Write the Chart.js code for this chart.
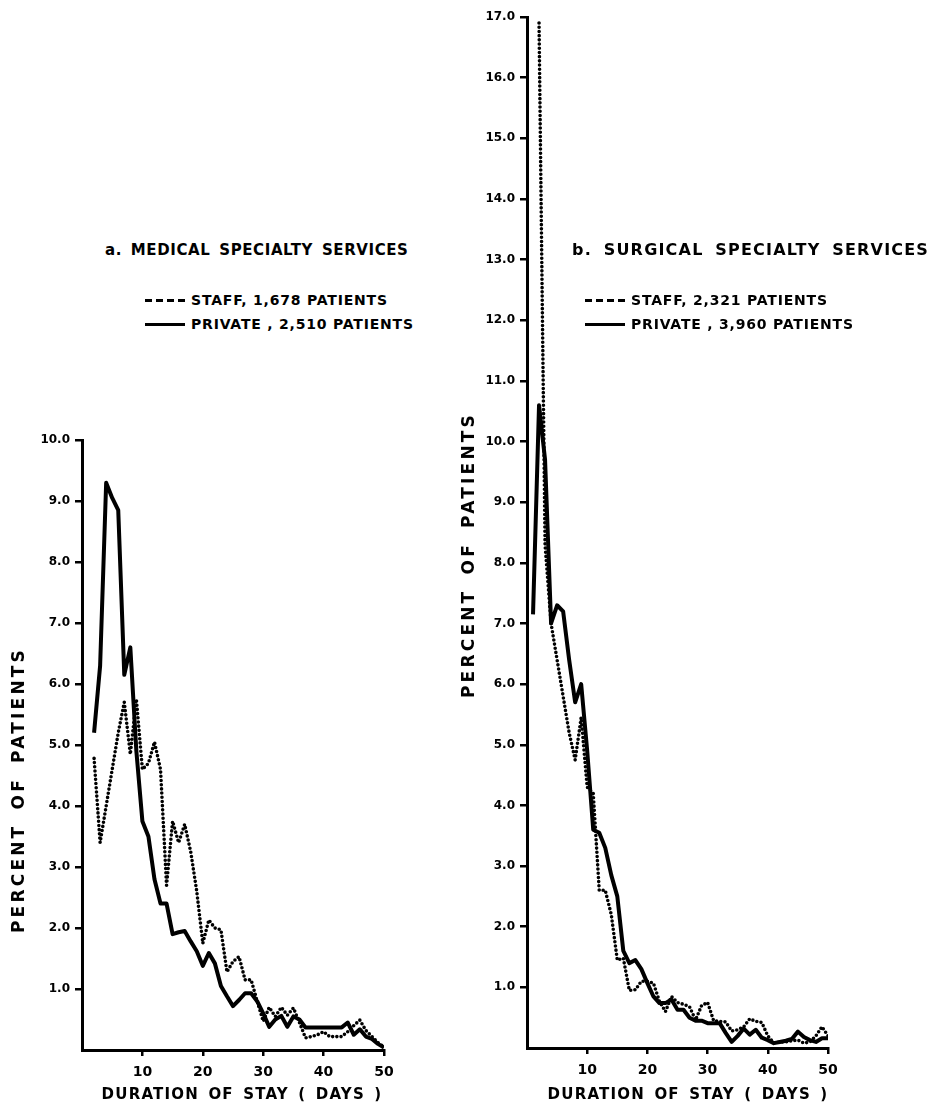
<!DOCTYPE html>
<html>
<head>
<meta charset="utf-8">
<script src="https://cdn.jsdelivr.net/npm/chart.js@4.4.1/dist/chart.umd.min.js"></script>
<style>
    html, body { margin: 0; padding: 0; background: #fff; }
    #page { position: relative; width: 937px; height: 1107px; overflow: hidden; font-family: "DejaVu Sans", sans-serif; font-weight: bold; color: #000; }
    canvas { position: absolute; }
    #med-canvas { left: 0; top: 400px; }
    #surg-canvas { left: 440px; top: 0; }
    .txt { position: absolute; white-space: nowrap; z-index: 2; }
    .title { font-size: 15px; line-height: 18px; letter-spacing: 0.6px; word-spacing: 3px; }
    .title.wide { font-size: 16px; letter-spacing: 1.2px; word-spacing: 5px; }
    .legend-row { font-size: 14px; line-height: 16px; letter-spacing: 0.8px; display: flex; align-items: center; }
    .swatch { display: inline-block; width: 40px; height: 3px; margin-right: 6px; background: #000; }
    .swatch.dashed { background: repeating-linear-gradient(to right, #000 0 7px, transparent 7px 11px); }
    .axis-title { font-size: 15px; line-height: 18px; letter-spacing: 1.2px; word-spacing: 3px; text-align: center; }
    .axis-title.vertical { width: 340px; font-size: 17px; letter-spacing: 3.2px; word-spacing: 5px; transform: rotate(-90deg); }
</style>
</head>
<body>
<div id="page">
    <canvas id="med-canvas" width="420" height="707"></canvas>
    <canvas id="surg-canvas" width="497" height="1107"></canvas>

    <div class="txt title" style="left:105px; top:241px;">a. MEDICAL SPECIALTY SERVICES</div>
    <div class="txt" id="med-legend" style="left:145px; top:292px;"></div>
    <div class="txt title wide" style="left:572px; top:241px;">b. SURGICAL SPECIALTY SERVICES</div>
    <div class="txt" id="surg-legend" style="left:585px; top:292px;"></div>

    <div class="txt axis-title vertical" style="left:-152px; top:781px;">PERCENT OF PATIENTS</div>
    <div class="txt axis-title vertical" style="left:298px; top:546px;">PERCENT OF PATIENTS</div>
    <div class="txt axis-title" style="left:92px; top:1085px; width:300px;">DURATION OF STAY ( DAYS )</div>
    <div class="txt axis-title" style="left:538px; top:1085px; width:300px;">DURATION OF STAY ( DAYS )</div>
</div>

<script>
// length of stay in days, 1..50
const stayDays = [
    1, 2, 3, 4, 5, 6, 7, 8, 9, 10,
    11, 12, 13, 14, 15, 16, 17, 18, 19, 20,
    21, 22, 23, 24, 25, 26, 27, 28, 29, 30,
    31, 32, 33, 34, 35, 36, 37, 38, 39, 40,
    41, 42, 43, 44, 45, 46, 47, 48, 49, 50
];

// a. medical specialty services, percent of patients per day of stay
const medStaff = [
    null, 4.78, 3.4, 4.0, 4.6, 5.2, 5.7, 4.85, 5.75, 4.6,
    4.7, 5.05, 4.6, 2.7, 3.75, 3.4, 3.7, 3.25, 2.6, 1.75,
    2.13, 2.0, 1.97, 1.28, 1.45, 1.53, 1.15, 1.15, 0.8, 0.47,
    0.7, 0.55, 0.7, 0.57, 0.69, 0.45, 0.2, 0.22, 0.25, 0.3,
    0.22, 0.22, 0.22, 0.3, 0.4, 0.49, 0.32, 0.22, 0.12, 0.05
];
const medPrivate = [
    null, 5.2, 6.3, 9.3, 9.05, 8.85, 6.15, 6.6, 4.9, 3.75,
    3.5, 2.8, 2.4, 2.4, 1.9, 1.93, 1.95, 1.78, 1.62, 1.38,
    1.59, 1.42, 1.05, 0.88, 0.72, 0.82, 0.93, 0.93, 0.8, 0.6,
    0.38, 0.5, 0.56, 0.38, 0.55, 0.5, 0.37, 0.37, 0.37, 0.37,
    0.37, 0.37, 0.37, 0.45, 0.25, 0.34, 0.22, 0.18, 0.1, 0.04
];

// b. surgical specialty services
const surgStaff = [
    null, 16.9, 8.3, 7.0, 6.4, 5.8, 5.2, 4.75, 5.45, 4.3,
    4.2, 2.6, 2.6, 2.2, 1.45, 1.48, 0.95, 0.96, 1.1, 1.1,
    1.07, 0.77, 0.6, 0.85, 0.75, 0.72, 0.68, 0.46, 0.7, 0.75,
    0.45, 0.44, 0.43, 0.28, 0.3, 0.35, 0.48, 0.44, 0.42, 0.2,
    0.08, 0.1, 0.1, 0.12, 0.13, 0.08, 0.1, 0.2, 0.35, 0.2
];
const surgPrivate = [
    7.15, 10.6, 9.7, 7.0, 7.3, 7.2, 6.4, 5.7, 6.0, 4.9,
    3.6, 3.55, 3.3, 2.85, 2.5, 1.6, 1.4, 1.45, 1.3, 1.07,
    0.85, 0.74, 0.74, 0.8, 0.63, 0.63, 0.5, 0.45, 0.45, 0.41,
    0.41, 0.41, 0.25, 0.1, 0.2, 0.32, 0.22, 0.3, 0.17, 0.13,
    0.08, 0.1, 0.12, 0.15, 0.27, 0.18, 0.13, 0.1, 0.16, 0.16
];

const medLabels = ["STAFF, 1,678 PATIENTS", "PRIVATE , 2,510 PATIENTS"];
const surgLabels = ["STAFF, 2,321 PATIENTS", "PRIVATE , 3,960 PATIENTS"];

Chart.defaults.font.family = '"DejaVu Sans", sans-serif';
Chart.defaults.font.weight = "bold";
Chart.defaults.font.size = 12;
Chart.defaults.color = "#000";

const medChart = initPanel("med-canvas", {
    staff: medStaff,
    priv: medPrivate,
    labels: medLabels,
    yMax: 10,
    yWidth: 82,
    xHeight: 57,
    padding: { top: 40, right: 36, bottom: 0, left: 0 }
});
const surgChart = initPanel("surg-canvas", {
    staff: surgStaff,
    priv: surgPrivate,
    labels: surgLabels,
    yMax: 17,
    yWidth: 87,
    xHeight: 59,
    padding: { top: 17, right: 109, bottom: 0, left: 0 }
});

buildLegend("med-legend", medChart);
buildLegend("surg-legend", surgChart);

function toPoints(values) {
    return stayDays.map((d, i) => ({ x: d, y: values[i] }));
}

function hideZero(ctx) {
    return ctx.tick && ctx.tick.value === 0 ? "transparent" : "#000";
}

function initPanel(canvasId, cfg) {
    const canvas = document.getElementById(canvasId);
    return new Chart(canvas.getContext("2d"), {
        type: "line",
        data: {
            datasets: [
                {
                    label: cfg.labels[0],
                    data: toPoints(cfg.staff),
                    borderColor: "#000",
                    borderWidth: 3.6,
                    borderDash: [0, 4.2],
                    borderCapStyle: "round",
                    borderJoinStyle: "round",
                    pointRadius: 0,
                    tension: 0
                },
                {
                    label: cfg.labels[1],
                    data: toPoints(cfg.priv),
                    borderColor: "#000",
                    borderWidth: 4,
                    borderCapStyle: "butt",
                    borderJoinStyle: "round",
                    pointRadius: 0,
                    tension: 0
                }
            ]
        },
        options: {
            responsive: false,
            animation: false,
            layout: { padding: cfg.padding },
            plugins: {
                legend: { display: false },
                tooltip: { enabled: false }
            },
            scales: {
                x: {
                    type: "linear",
                    min: 0,
                    max: 50,
                    afterFit: (scale) => { scale.height = cfg.xHeight; },
                    border: { display: true, color: "#000", width: 3 },
                    grid: {
                        drawOnChartArea: false,
                        drawTicks: true,
                        tickLength: 6,
                        lineWidth: 2.5,
                        color: hideZero
                    },
                    ticks: {
                        stepSize: 10,
                        autoSkip: false,
                        maxRotation: 0,
                        padding: 8,
                        font: { size: 14 },
                        callback: (v) => (v === 0 ? "" : v)
                    }
                },
                y: {
                    min: 0,
                    max: cfg.yMax,
                    afterFit: (scale) => { scale.width = cfg.yWidth; },
                    border: { display: true, color: "#000", width: 3 },
                    grid: {
                        drawOnChartArea: false,
                        drawTicks: true,
                        tickLength: 7,
                        lineWidth: 2.5,
                        color: hideZero
                    },
                    ticks: {
                        stepSize: 1,
                        autoSkip: false,
                        padding: 5,
                        font: { size: 12 },
                        callback: (v) => (v === 0 ? "" : v.toFixed(1))
                    }
                }
            }
        }
    });
}

function buildLegend(id, chart) {
    const box = document.getElementById(id);
    chart.data.datasets.forEach((ds) => {
        const row = document.createElement("div");
        row.className = "legend-row";
        row.style.marginBottom = "8px";
        const swatch = document.createElement("span");
        swatch.className = ds.borderDash ? "swatch dashed" : "swatch";
        const label = document.createElement("span");
        label.textContent = ds.label;
        row.appendChild(swatch);
        row.appendChild(label);
        box.appendChild(row);
    });
}
</script>
</body>
</html>
